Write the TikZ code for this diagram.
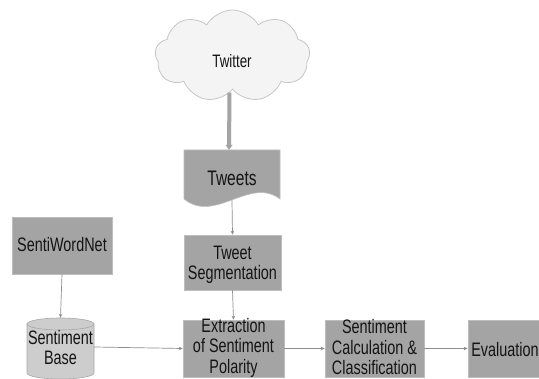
\documentclass[tikz,border=0pt]{standalone}
\usepackage{fontspec}
\setmainfont{Liberation Sans}[FakeStretch=0.74]
\usetikzlibrary{shapes.symbols,arrows.meta}
\definecolor{boxgray}{HTML}{A4A4A4}
\definecolor{boxedge}{HTML}{BDBDBD}
\definecolor{cylgray}{HTML}{CDCDCD}
\definecolor{cyledge}{HTML}{A8A8A8}
\definecolor{cloudfill}{HTML}{F4F4F4}
\definecolor{cloudedge}{HTML}{C6C6C6}
\definecolor{linegray}{HTML}{8E8E8E}
\definecolor{txt}{HTML}{141414}
\begin{document}
\begin{tikzpicture}[x=1pt,y=1pt,
  graybox/.style={rectangle, draw=boxedge, fill=boxgray, line width=0.6pt, inner sep=0pt},
  ghost/.style={rectangle, inner sep=0pt, draw=none},
  lbl/.style={text=txt, align=center, inner sep=0pt, font=\fontsize{19.5}{20.5}\selectfont},
  conn/.style={draw=linegray, line width=0.7pt, -{Stealth[length=4pt,width=3.5pt]}},
  thick conn/.style={draw=boxgray, line width=4pt, -{Triangle[length=5pt,width=7pt]}}
]
\useasboundingbox (0,0) rectangle (539,-379);
\fill[white] (0,0) rectangle (539,-379);

% cloud
\node[cloud, cloud puffs=9, cloud puff arc=120, cloud ignores aspect,
      minimum width=155pt, minimum height=92pt, fill=cloudfill, draw=cloudedge,
      line width=0.8pt] (twitter) at (232.5,-56) {};
\node[lbl, font=\fontsize{18}{20}\selectfont] (twittertxt) at (232,-61) {Twitter};

% Tweets document
\node[ghost, minimum width=96pt, minimum height=50pt] (tweets) at (232,-175) {};
\path[fill=boxgray, draw=boxedge, line width=0.6pt]
  (184,-150) -- (280,-150) -- (280,-199)
  .. controls (250,-176) and (215,-224) .. (184,-199) -- cycle;
\node[lbl, font=\fontsize{21}{23}\selectfont] (tweetstxt) at (232,-178) {Tweets};

% Tweet Segmentation
\node[graybox, minimum width=97pt, minimum height=55pt] (seg) at (232.5,-262.5) {};
\node[lbl] (segtxt) at (232.5,-265) {Tweet\\Segmentation};

% SentiWordNet
\node[graybox, minimum width=100pt, minimum height=57pt] (swn) at (62,-245.5) {};
\node[lbl] (swntxt) at (62,-245) {SentiWordNet};

% Sentiment Base cylinder
\node[ghost, minimum width=67pt, minimum height=58pt] (base) at (60.5,-347) {};
\path[fill=cylgray, draw=cyledge, line width=0.6pt]
  (27,-324) -- (27,-373) arc[start angle=180, end angle=360, x radius=33.5pt, y radius=6pt]
  -- (94,-324) -- cycle;
\path[fill=cylgray, draw=cyledge, line width=0.6pt]
  (60.5,-324) ellipse [x radius=33.5pt, y radius=6pt];
\node[lbl] (basetxt) at (60.5,-347.5) {Sentiment\\Base};

% Extraction
\node[graybox, minimum width=101pt, minimum height=57pt] (extr) at (233.5,-348.5) {};
\node[lbl] (extrtxt) at (233.5,-347.5) {Extraction\\of Sentiment\\Polarity};

% Sentiment Calculation
\node[graybox, minimum width=99pt, minimum height=57pt] (calc) at (374.5,-348.5) {};
\node[lbl] (calctxt) at (374.5,-347.5) {Sentiment\\Calculation \&\\Classification};

% Evaluation (cut by right edge)
\node[graybox, minimum width=100pt, minimum height=57pt] (eval) at (518,-348.5) {};
\node[lbl] (evaltxt) at (505,-350) {Evaluation};

% connectors
\draw[thick conn] ([xshift=-3pt,yshift=-3pt]twitter.south) -- ([xshift=-3pt]tweets.north);
\draw[conn] (tweets.south) -- (seg.north);
\draw[conn] (seg.south) -- (extr.north);
\draw[conn] (swn.south) -- (base.north);
\draw[conn] (base.east) -- (extr.west);
\draw[conn] (extr.east) -- (calc.west);
\draw[conn] (calc.east) -- (eval.west);
\end{tikzpicture}
\end{document}
